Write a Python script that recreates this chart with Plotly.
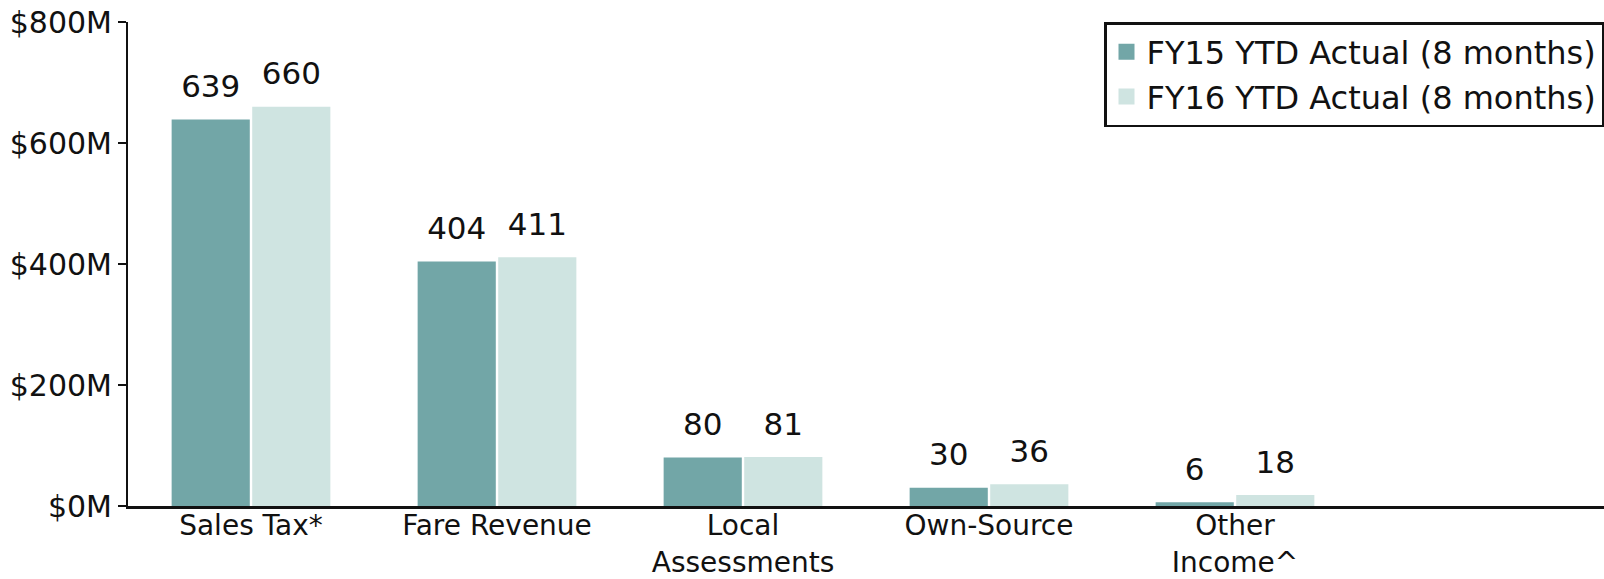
import plotly.graph_objects as go

# Revenue categories and year-to-date actuals (in $ millions)
categories = ["Sales Tax*", "Fare Revenue", "Local<br>Assessments", "Own-Source", "Other<br>Income^"]
fy15_values = [639, 404, 80, 30, 6]
fy16_values = [660, 411, 81, 36, 18]
series_names = ["FY15 YTD Actual (8 months)", "FY16 YTD Actual (8 months)"]
y_tick_values = [0, 200, 400, 600, 800]
y_tick_labels = ["$0M", "$200M", "$400M", "$600M", "$800M"]

DARK = "rgb(114,166,167)"
LIGHT = "rgb(207,228,225)"
FONT = "DejaVu Sans"
INK = "#111111"

fig = go.Figure()

series = [
    (series_names[0], fy15_values, DARK, "a"),
    (series_names[1], fy16_values, LIGHT, "b"),
]

for name, vals, color, grp in series:
    fig.add_trace(go.Bar(
        x=categories, y=vals, name=name,
        marker=dict(color=color, line=dict(width=0)),
        offsetgroup=grp, alignmentgroup="g",
        showlegend=False, hoverinfo="skip",
    ))

# Value labels above each bar, grouped to line up with the bars
for name, vals, color, grp in series:
    fig.add_trace(go.Scatter(
        x=categories, y=vals, mode="markers+text",
        text=[str(v) for v in vals], textposition="top center",
        textfont=dict(family=FONT, size=31, color=INK),
        marker=dict(size=22, opacity=0),
        offsetgroup=grp, alignmentgroup="g",
        showlegend=False, hoverinfo="skip", cliponaxis=False,
    ))

# Legend entries with larger square swatches
for name, vals, color, grp in series:
    fig.add_trace(go.Scatter(
        x=[None], y=[None], mode="markers", name=name,
        marker=dict(symbol="square", size=16, color=color),
        showlegend=True, hoverinfo="skip",
    ))

fig.update_layout(
    width=1604, height=579,
    margin=dict(l=128, r=0, t=22, b=73),
    paper_bgcolor="white", plot_bgcolor="white",
    barmode="group", scattermode="group",
    bargap=0.345, bargroupgap=0.03,
    font=dict(family=FONT, size=31, color=INK),
    showlegend=True,
    legend=dict(
        x=1, xanchor="right", y=1, yanchor="top",
        bordercolor=INK, borderwidth=2.5, bgcolor="white",
        font=dict(family=FONT, size=32, color=INK),
        itemwidth=30, tracegroupgap=0,
    ),
)

fig.update_xaxes(
    type="category", categoryorder="array", categoryarray=categories,
    range=[-0.5, 5.5], showgrid=False, zeroline=False,
    showline=True, linecolor=INK, linewidth=2.5,
    ticks="", tickfont=dict(family=FONT, size=28, color=INK),
    ticklabelstandoff=-7,
    automargin=False,
)
fig.update_yaxes(
    range=[0, 800], tickmode="array", tickvals=y_tick_values, ticktext=y_tick_labels,
    showgrid=False, zeroline=False,
    showline=True, linecolor=INK, linewidth=2,
    ticks="outside", ticklen=8, tickwidth=2, tickcolor=INK,
    tickfont=dict(family=FONT, size=30, color=INK),
    automargin=False,
)

fig.write_html("out.html")
